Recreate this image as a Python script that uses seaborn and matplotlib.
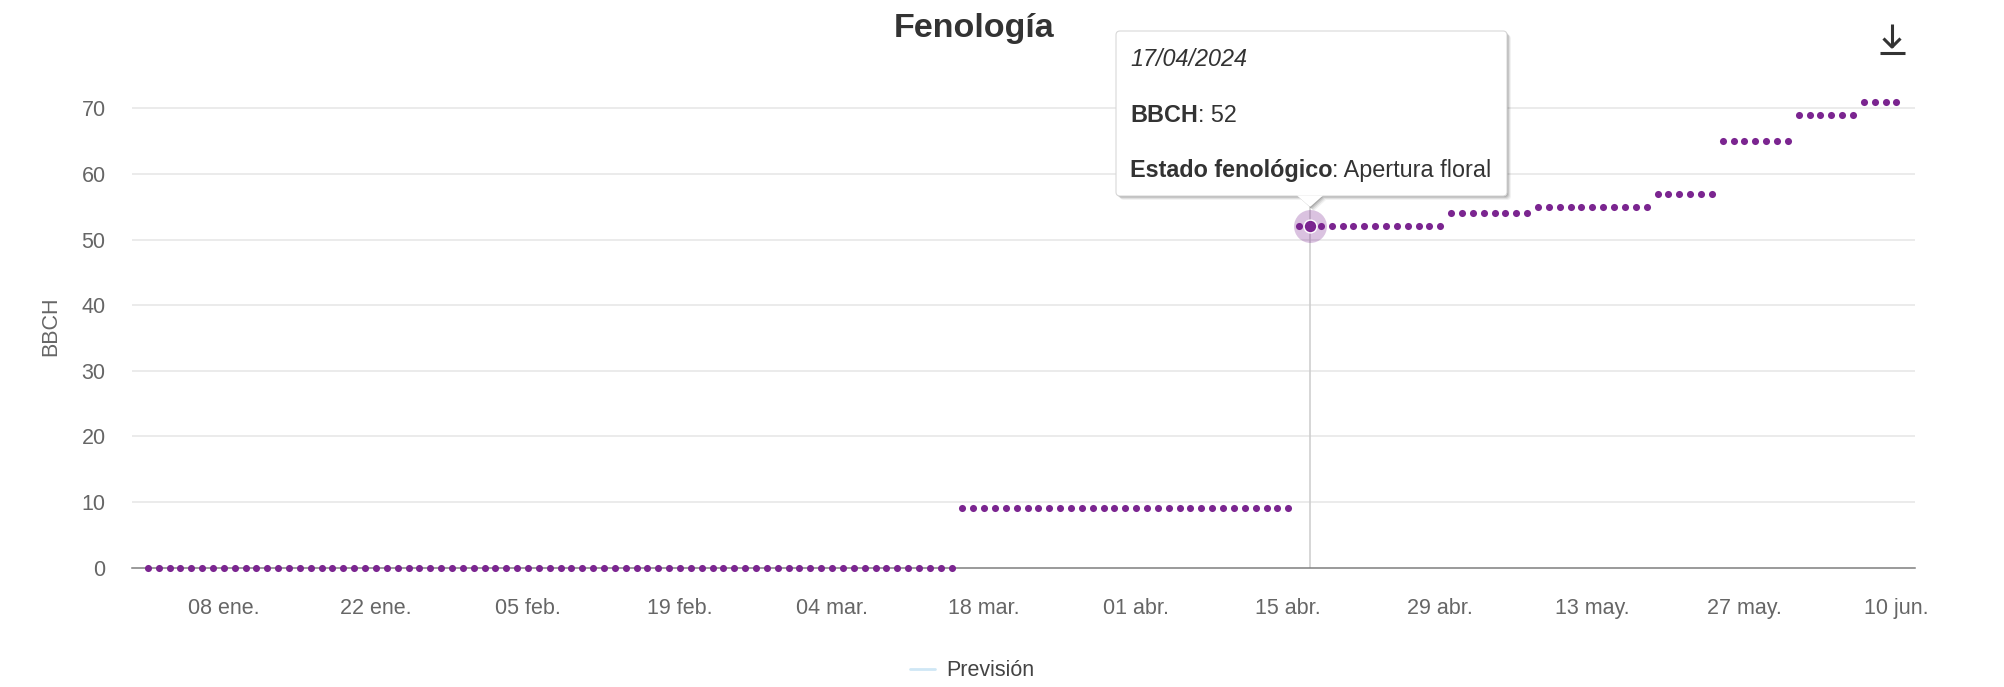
import numpy as np
import pandas as pd
import matplotlib
matplotlib.use("Agg")
import matplotlib.pyplot as plt
import seaborn as sns
from matplotlib.patches import Polygon, FancyBboxPatch
from matplotlib.lines import Line2D
from matplotlib.text import Annotation
from matplotlib.transforms import IdentityTransform

# ---------------- data ----------------
stage_start = ["2024-01-01", "2024-03-16", "2024-04-16", "2024-04-30", "2024-05-08",
               "2024-05-19", "2024-05-25", "2024-06-01", "2024-06-07"]
stage_end = ["2024-03-15", "2024-04-15", "2024-04-29", "2024-05-07", "2024-05-18",
             "2024-05-24", "2024-05-31", "2024-06-06", "2024-06-10"]
stage_bbch = [0, 9, 52, 54, 55, 57, 65, 69, 71]

tick_dates = ["2024-01-08", "2024-01-22", "2024-02-05", "2024-02-19", "2024-03-04",
              "2024-03-18", "2024-04-01", "2024-04-15", "2024-04-29", "2024-05-13",
              "2024-05-27", "2024-06-10"]
tick_labels = ["08 ene.", "22 ene.", "05 feb.", "19 feb.", "04 mar.", "18 mar.",
               "01 abr.", "15 abr.", "29 abr.", "13 may.", "27 may.", "10 jun."]
y_ticks = [0, 10, 20, 30, 40, 50, 60, 70]

hover_date = "2024-04-17"
hover_bbch = 52
hover_state = "Apertura floral"

rows = []
for s, e, v in zip(stage_start, stage_end, stage_bbch):
    for d in pd.date_range(s, e, freq="D"):
        rows.append((d, v))
df = pd.DataFrame(rows, columns=["fecha", "BBCH"])

# ---------------- style ----------------
sns.set_style("white")
plt.rcParams["font.family"] = ["Liberation Sans", "DejaVu Sans"]

W, H = 2004, 687
fig = plt.figure(figsize=(W / 100, H / 100), dpi=100)
ax = fig.add_axes([132 / W, (H - 567.5) / H, (1915 - 132) / W, 472.3 / H])

purple = "#7b2590"
sns.scatterplot(data=df, x="fecha", y="BBCH", color=purple, s=26, linewidth=0,
                ax=ax, clip_on=False, legend=False, zorder=3)

ax.set_ylim(0, 72)
ax.set_xlim(pd.Timestamp("2024-01-01") - pd.Timedelta(hours=35),
            pd.Timestamp("2024-06-10") + pd.Timedelta(hours=41))

for yv in y_ticks[1:]:
    ax.axhline(yv, color="#e6e6e6", lw=1.1, zorder=0)

ax.set_yticks(y_ticks)
ax.set_xticks(pd.to_datetime(tick_dates))
ax.set_xticklabels(tick_labels)
ax.tick_params(axis="x", length=12, width=1.1, color="#7f7f7f", pad=10,
               labelsize=15.5, labelcolor="#666666", direction="out")
ax.tick_params(axis="y", length=0, pad=19, labelsize=15.5, labelcolor="#666666")
for sp in ["top", "right", "left"]:
    ax.spines[sp].set_visible(False)
ax.spines["bottom"].set_color("#7f7f7f")
ax.spines["bottom"].set_linewidth(1.1)
ax.set_xlabel("")
ax.set_ylabel("")

# crosshair + hover halo
hd = pd.Timestamp(hover_date)
ax.axvline(hd, color="#cccccc", lw=1.1, zorder=1)
ax.scatter([hd], [hover_bbch], s=560, color=purple, alpha=0.28, linewidth=0, zorder=4, clip_on=False)
ax.scatter([hd], [hover_bbch], s=85, color=purple, edgecolor="white", linewidth=1, zorder=5, clip_on=False)

# title / y label
fig.text(974 / W, 1 - 28 / H, "Fenología", ha="center", va="center",
         fontsize=24.5, fontweight="bold", color="#333333")
fig.text(51 / W, 1 - 326 / H, "BBCH", ha="center", va="center", rotation=90,
         fontsize=15.5, color="#666666")

# legend
ax.plot([], [], color="#cfe7f5", lw=2, label="Previsión")
fig.legend(loc="center", bbox_to_anchor=(972 / W, 1 - 671 / H), frameon=False,
           fontsize=15.5, handlelength=1.2, handletextpad=0.5, labelcolor="#444444")

# download icon
ic = dict(color="#333333", lw=2.2, solid_capstyle="butt", transform=IdentityTransform())
fig.add_artist(Line2D([1892, 1892], [H - 24, H - 47], **ic))
fig.add_artist(Line2D([1883.5, 1892, 1900.5], [H - 38.5, H - 47, H - 38.5], **ic))
fig.add_artist(Line2D([1880, 1905], [H - 53, H - 53], **ic))

# tooltip
bx0, by0, bx1, by1 = 1116, 31, 1507, 196
for k, a in [(4, 0.05), (3, 0.08), (2, 0.11), (1, 0.14)]:
    fig.add_artist(FancyBboxPatch((bx0 + k, H - by1 - k), bx1 - bx0, by1 - by0,
                                  boxstyle="round,pad=0,rounding_size=4",
                                  transform=IdentityTransform(), facecolor="black",
                                  edgecolor="none", alpha=a, zorder=9))
    fig.add_artist(Polygon([(1298 + k, H - 196 - k), (1322 + k, H - 196 - k), (1310 + k, H - 207 - k)],
                           closed=True, transform=IdentityTransform(), facecolor="black",
                           edgecolor="none", alpha=a, zorder=9))
fig.add_artist(FancyBboxPatch((bx0, H - by1), bx1 - bx0, by1 - by0,
                              boxstyle="round,pad=0,rounding_size=4",
                              transform=IdentityTransform(), facecolor="white",
                              edgecolor="#d8d8d8", lw=0.8, zorder=10))
fig.add_artist(Polygon([(1297, H - 195.5), (1323, H - 195.5), (1310, H - 207)],
                       closed=True, transform=IdentityTransform(), facecolor="white",
                       edgecolor="none", zorder=11))

tfs = 16.8
fig.text(1130 / W, 1 - 60 / H, hd.strftime("%d/%m/%Y"), ha="left", va="center",
         fontsize=tfs, style="italic", color="#333333", zorder=12)
t1 = fig.text(1130 / W, 1 - 115 / H, "BBCH", ha="left", va="center",
              fontsize=tfs, fontweight="bold", color="#333333", zorder=12)
a1 = Annotation(f": {hover_bbch}", xy=(1, 0), xycoords=t1, ha="left", va="bottom",
                fontsize=tfs, color="#333333", zorder=12)
fig.add_artist(a1)
t2 = fig.text(1130 / W, 1 - 170 / H, "Estado fenológico", ha="left", va="center",
              fontsize=tfs, fontweight="bold", color="#333333", zorder=12)
a2 = Annotation(f": {hover_state}", xy=(1, 0), xycoords=t2, ha="left", va="bottom",
                fontsize=tfs, color="#333333", zorder=12)
fig.add_artist(a2)

fig.savefig("out.png", dpi=100)
